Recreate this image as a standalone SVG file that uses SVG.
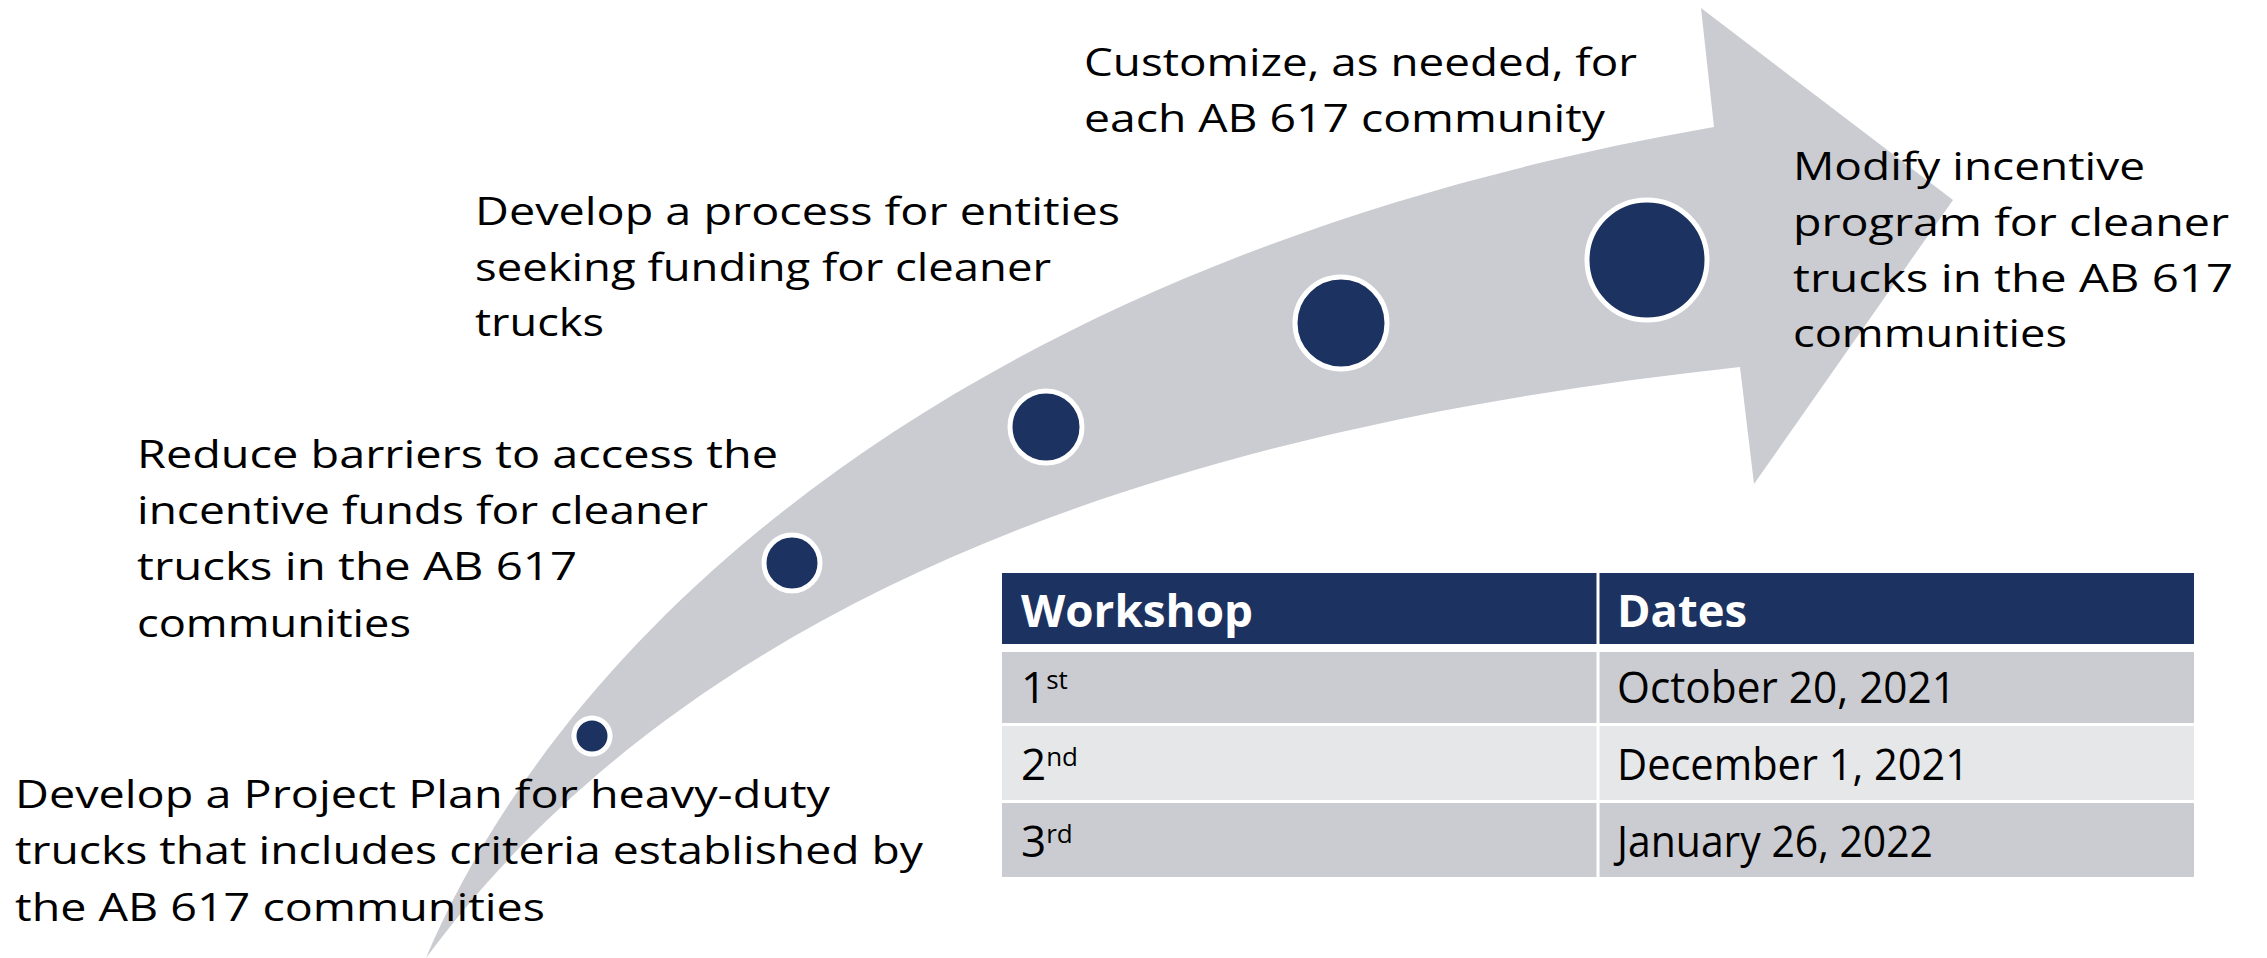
<svg xmlns="http://www.w3.org/2000/svg" width="2267" height="958" viewBox="0 0 2267 958">
<style>
.lbl{font-family:"Open Sans","Liberation Sans",sans-serif;font-size:39px;fill:#000}
.cell{font-family:"Open Sans","Liberation Sans",sans-serif;font-size:44px;fill:#000}
.hdr{font-family:"Open Sans","Liberation Sans",sans-serif;font-size:44px;font-weight:bold;fill:#fff}
.dot{fill:#1c3260;stroke:#fff;stroke-width:5}
</style>
<rect width="2267" height="958" fill="#fff"/>
<g id="connectors">
<path id="arrow" d="M426,958 C560,640 950,260 1714,127 L1701,8 L1953,200 L1754,484 L1740,367 C1250,420 720,560 426,958 Z" fill="#cbccd1"/>
</g>
<g id="step1">
<circle class="dot" cx="592" cy="736" r="18"/>
<text class="lbl"><tspan x="15" y="808" textLength="815" lengthAdjust="spacingAndGlyphs">Develop a Project Plan for heavy-duty</tspan><tspan x="15" y="864" textLength="908" lengthAdjust="spacingAndGlyphs">trucks that includes criteria established by</tspan><tspan x="15" y="921" textLength="530" lengthAdjust="spacingAndGlyphs">the AB 617 communities</tspan></text>
</g>
<g id="step2">
<circle class="dot" cx="792" cy="563" r="28"/>
<text class="lbl"><tspan x="137" y="468" textLength="641" lengthAdjust="spacingAndGlyphs">Reduce barriers to access the</tspan><tspan x="137" y="524" textLength="571" lengthAdjust="spacingAndGlyphs">incentive funds for cleaner</tspan><tspan x="137" y="580" textLength="440" lengthAdjust="spacingAndGlyphs">trucks in the AB 617</tspan><tspan x="137" y="637" textLength="274" lengthAdjust="spacingAndGlyphs">communities</tspan></text>
</g>
<g id="step3">
<circle class="dot" cx="1046" cy="427" r="36"/>
<text class="lbl"><tspan x="475" y="225" textLength="645" lengthAdjust="spacingAndGlyphs">Develop a process for entities</tspan><tspan x="475" y="281" textLength="576" lengthAdjust="spacingAndGlyphs">seeking funding for cleaner</tspan><tspan x="475" y="336" textLength="129" lengthAdjust="spacingAndGlyphs">trucks</tspan></text>
</g>
<g id="step4">
<circle class="dot" cx="1341" cy="323" r="46"/>
<text class="lbl"><tspan x="1084" y="76" textLength="553" lengthAdjust="spacingAndGlyphs">Customize, as needed, for</tspan><tspan x="1084" y="132" textLength="521" lengthAdjust="spacingAndGlyphs">each AB 617 community</tspan></text>
</g>
<g id="step5">
<circle class="dot" cx="1647" cy="260" r="60"/>
<text class="lbl"><tspan x="1793" y="180" textLength="352" lengthAdjust="spacingAndGlyphs">Modify incentive</tspan><tspan x="1793" y="236" textLength="436" lengthAdjust="spacingAndGlyphs">program for cleaner</tspan><tspan x="1793" y="292" textLength="440" lengthAdjust="spacingAndGlyphs">trucks in the AB 617</tspan><tspan x="1793" y="347" textLength="274" lengthAdjust="spacingAndGlyphs">communities</tspan></text>
</g>
<g id="table">
<rect x="1002" y="573" width="1192" height="71" fill="#1c3260"/>
<rect x="1002" y="652" width="1192" height="71" fill="#cbccd1"/>
<rect x="1002" y="726" width="1192" height="74" fill="#e6e7e9"/>
<rect x="1002" y="803" width="1192" height="74" fill="#cbccd1"/>
<line x1="1598" y1="573" x2="1598" y2="877" stroke="#fff" stroke-width="3"/>
<text class="hdr" x="1021" y="627" textLength="232" lengthAdjust="spacingAndGlyphs">Workshop</text>
<text class="hdr" x="1617" y="627" textLength="130" lengthAdjust="spacingAndGlyphs">Dates</text>
<text class="cell" x="1021" y="703">1<tspan font-size="26" dy="-14">st</tspan></text>
<text class="cell" x="1021" y="780">2<tspan font-size="26" dy="-14">nd</tspan></text>
<text class="cell" x="1021" y="857">3<tspan font-size="26" dy="-14">rd</tspan></text>
<text class="cell" x="1617" y="703" textLength="339" lengthAdjust="spacingAndGlyphs">October 20, 2021</text>
<text class="cell" x="1617" y="780" textLength="352" lengthAdjust="spacingAndGlyphs">December 1, 2021</text>
<text class="cell" x="1617" y="857" textLength="316" lengthAdjust="spacingAndGlyphs">January 26, 2022</text>
</g>
</svg>
